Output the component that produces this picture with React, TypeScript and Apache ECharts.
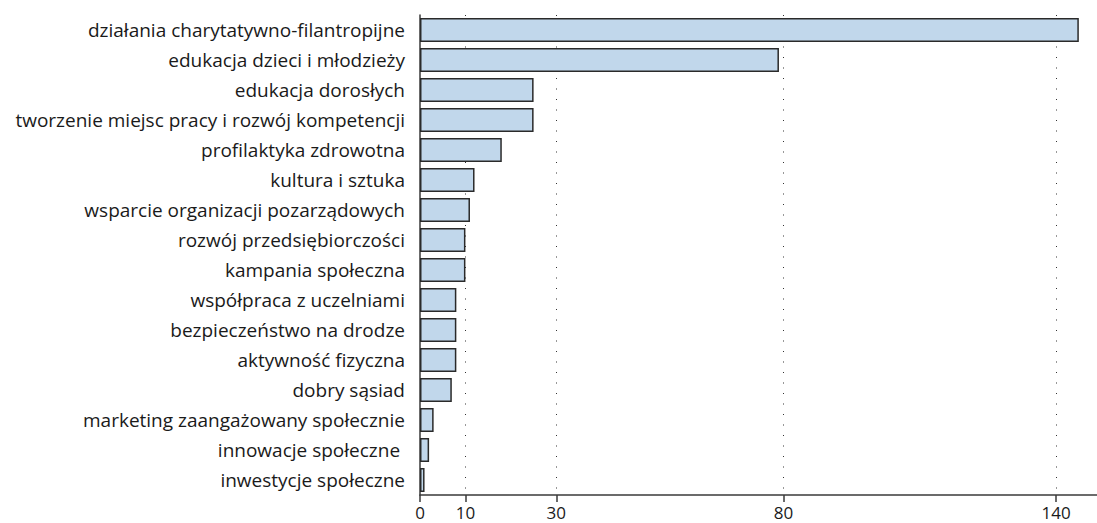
import React, { useEffect, useRef } from "react";
import * as echarts from "echarts";

const categories: string[] = [
  "działania charytatywno-filantropijne",
  "edukacja dzieci i młodzieży",
  "edukacja dorosłych",
  "tworzenie miejsc pracy i rozwój kompetencji",
  "profilaktyka zdrowotna",
  "kultura i sztuka",
  "wsparcie organizacji pozarządowych",
  "rozwój przedsiębiorczości",
  "kampania społeczna",
  "współpraca z uczelniami",
  "bezpieczeństwo na drodze",
  "aktywność fizyczna",
  "dobry sąsiad",
  "marketing zaangażowany społecznie",
  "innowacje społeczne ",
  "inwestycje społeczne",
];

const values: number[] = [145, 79, 25, 25, 18, 12, 11, 10, 10, 8, 8, 8, 7, 3, 2, 1];

const tickValues: number[] = [0, 10, 30, 80, 140];
const gridValues: number[] = [10, 30, 80, 140];

const FONT = "Open Sans";

export default function App() {
  const ref = useRef<HTMLDivElement>(null);
  useEffect(() => {
    document.body.style.margin = "0";
    if (!ref.current) return;
    const chart = echarts.init(ref.current, undefined, { renderer: "svg" });
    chart.setOption({
      animation: false,
      backgroundColor: "#ffffff",
      grid: { left: 420, right: 0, top: 15, bottom: 28, containLabel: false },
      xAxis: {
        type: "value",
        min: 0,
        max: 149,
        axisLine: { show: true, lineStyle: { color: "#3a3a3a", width: 1.5 } },
        axisTick: {
          show: true,
          customValues: tickValues,
          length: 7,
          lineStyle: { color: "#3a3a3a", width: 1.5 },
        },
        axisLabel: {
          customValues: tickValues,
          fontFamily: FONT,
          fontSize: 17,
          color: "#1a1a1a",
          margin: 9,
        },
        splitLine: { show: false },
      },
      yAxis: {
        type: "category",
        inverse: true,
        data: categories,
        offset: 7,
        axisLine: { show: true, lineStyle: { color: "#3a3a3a", width: 1.5 } },
        axisTick: { show: false },
        axisLabel: {
          fontFamily: FONT,
          fontSize: 19,
          color: "#1a1a1a",
          margin: 8,
        },
        splitLine: { show: false },
      },
      series: [
        {
          type: "bar",
          data: values,
          barWidth: "80%",
          z: 10,
          itemStyle: {
            color: "#c1d7eb",
            borderColor: "#2a2a2a",
            borderWidth: 1.5,
          },
          markLine: {
            silent: true,
            symbol: ["none", "none"],
            label: { show: false },
            lineStyle: { color: "#333333", width: 1, type: [1, 9.5] },
            data: gridValues.map((v) => ({ xAxis: v })),
          },
        },
      ],
    });
    return () => chart.dispose();
  }, []);
  return <div ref={ref} style={{ width: 1097, height: 523 }} />;
}
